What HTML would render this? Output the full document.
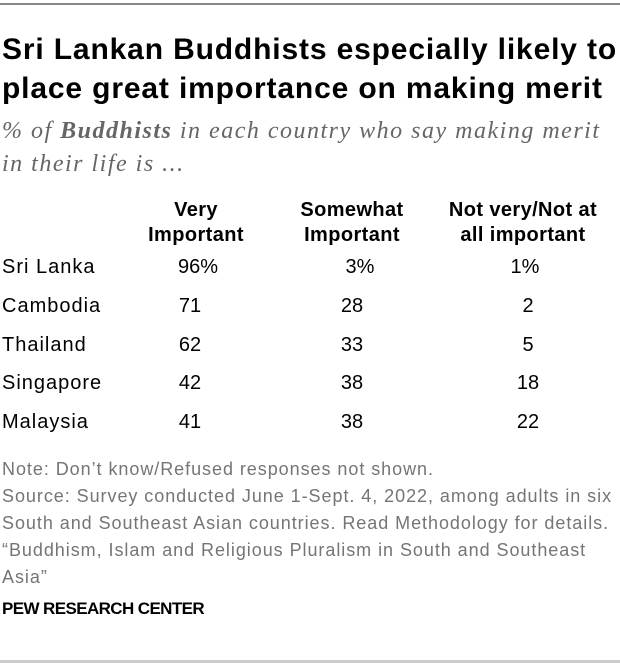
<!DOCTYPE html>
<html><head><style>
body{margin:0;width:620px;height:664px;background:#fff;position:relative;overflow:hidden;font-family:"Liberation Sans",sans-serif;}
.a{position:absolute;white-space:nowrap;}
.t{font-weight:bold;font-size:30px;color:#000;left:2px;letter-spacing:0.85px;}
.s{font-family:"Liberation Serif",serif;font-style:italic;font-size:24px;color:#666;left:2px;letter-spacing:1.5px;}
.h{font-weight:bold;font-size:20px;text-align:center;line-height:25px;width:200px;color:#000;letter-spacing:0.4px}
.r{font-size:20px;color:#000}
.c{text-align:center;width:100px}
.n{font-size:18px;color:#757575;left:2px;letter-spacing:0.95px}
</style></head><body>
<div class="a" style="top:3px;left:0;width:620px;height:2px;background:#888"></div>
<div class="a t" style="top:33px">Sri Lankan Buddhists especially likely to</div>
<div class="a t" style="top:72px">place great importance on making merit</div>
<div class="a s" style="top:118px">% of <b>Buddhists</b> in each country who say making merit</div>
<div class="a s" style="top:151px">in their life is ...</div>
<div class="a h" style="left:96px;top:198px">Very<br>Important</div>
<div class="a h" style="left:252px;top:198px">Somewhat<br>Important</div>
<div class="a h" style="left:423px;top:198px">Not very/Not at<br>all important</div>
<div class="a r" style="left:2px;top:256px;letter-spacing:1px">Sri Lanka</div><div class="a r c" style="left:148px;top:256px">96%</div><div class="a r c" style="left:310px;top:256px">3%</div><div class="a r c" style="left:475px;top:256px">1%</div>
<div class="a r" style="left:2px;top:295px;letter-spacing:1px">Cambodia</div><div class="a r c" style="left:140px;top:295px">71</div><div class="a r c" style="left:302px;top:295px">28</div><div class="a r c" style="left:478px;top:295px">2</div>
<div class="a r" style="left:2px;top:334px;letter-spacing:1px">Thailand</div><div class="a r c" style="left:140px;top:334px">62</div><div class="a r c" style="left:302px;top:334px">33</div><div class="a r c" style="left:478px;top:334px">5</div>
<div class="a r" style="left:2px;top:372px;letter-spacing:1px">Singapore</div><div class="a r c" style="left:140px;top:372px">42</div><div class="a r c" style="left:302px;top:372px">38</div><div class="a r c" style="left:478px;top:372px">18</div>
<div class="a r" style="left:2px;top:411px;letter-spacing:1px">Malaysia</div><div class="a r c" style="left:140px;top:411px">41</div><div class="a r c" style="left:302px;top:411px">38</div><div class="a r c" style="left:478px;top:411px">22</div>
<div class="a n" style="top:459px">Note: Don’t know/Refused responses not shown.</div>
<div class="a n" style="top:486px">Source: Survey conducted June 1-Sept. 4, 2022, among adults in six</div>
<div class="a n" style="top:513px">South and Southeast Asian countries. Read Methodology for details.</div>
<div class="a n" style="top:540px">“Buddhism, Islam and Religious Pluralism in South and Southeast</div>
<div class="a n" style="top:567px">Asia”</div>
<div class="a" style="top:599px;left:2px;font-weight:bold;font-size:17px;color:#000;letter-spacing:-0.6px">PEW RESEARCH CENTER</div>
<div class="a" style="top:660px;left:0;width:620px;height:3px;background:#ccc"></div>
</body></html>
